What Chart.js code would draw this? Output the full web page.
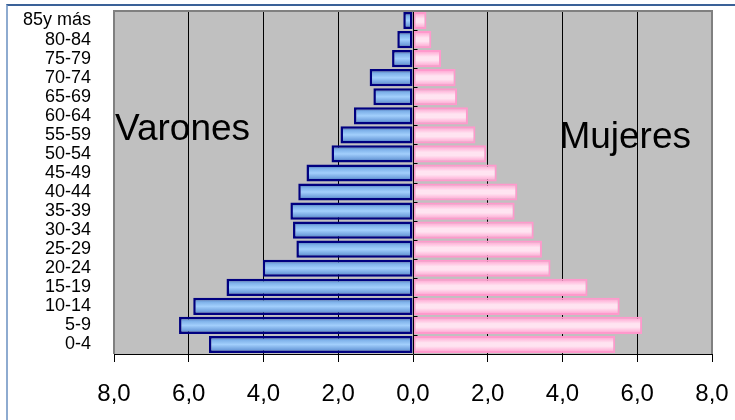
<!DOCTYPE html>
<html>
<head>
<meta charset="utf-8">
<script src="https://cdn.jsdelivr.net/npm/chart.js@4/dist/chart.umd.min.js"></script>
<style>
  body { margin: 0; background: #fff; }
  #wrap { position: relative; width: 735px; height: 420px; overflow: hidden; }
  #frame { position: absolute; left: 6px; top: 4px; width: 800px; height: 500px;
           border-top: 2px solid #3a6198; border-left: 2px solid #8eabd0; }
  canvas { position: absolute; left: 0; top: 0; }
</style>
</head>
<body>
<div id="wrap">
  <div id="frame"></div>
  <canvas id="piramide" width="735" height="420"></canvas>
</div>
<script>
// grupos de edad, de abajo hacia arriba
const grupos = ['0-4', '5-9', '10-14', '15-19', '20-24', '25-29', '30-34', '35-39', '40-44',
  '45-49', '50-54', '55-59', '60-64', '65-69', '70-74', '75-79', '80-84', '85y más'];
// porcentaje de población por sexo
const varones = [5.46, 6.26, 5.88, 4.99, 4.02, 3.12, 3.21, 3.28, 3.07,
  2.85, 2.18, 1.94, 1.58, 1.06, 1.16, 0.56, 0.42, 0.26];
const mujeres = [5.41, 6.13, 5.53, 4.67, 3.68, 3.45, 3.23, 2.72, 2.79,
  2.24, 1.96, 1.67, 1.47, 1.18, 1.14, 0.75, 0.49, 0.36];
const rotulos = ['Varones', 'Mujeres'];

const FUENTE = "'Liberation Sans', Arial, sans-serif";
const BAR_PCT = 0.9;

// degradado vertical dentro de cada barra
function degradado(stops, fallback) {
  return function (ctx) {
    const chart = ctx.chart;
    const yS = chart.scales.y;
    if (!chart.chartArea || !yS || ctx.type !== 'data') return fallback;
    const cy = yS.getPixelForValue(ctx.dataIndex);
    const h = yS.height / grupos.length * BAR_PCT;
    const g = chart.ctx.createLinearGradient(0, cy - h / 2, 0, cy + h / 2);
    stops.forEach(s => g.addColorStop(s[0], s[1]));
    return g;
  };
}

const fondoPlugin = {
  id: 'fondo',
  beforeDraw(chart) {
    const { ctx, chartArea: a } = chart;
    ctx.save();
    ctx.fillStyle = '#c0c0c0';
    ctx.fillRect(a.left, a.top, a.right - a.left, a.bottom - a.top);
    ctx.restore();
  },
  afterDatasetsDraw(chart) {
    const { ctx, chartArea: a, scales } = chart;
    ctx.save();
    // eje vertical en el cero con sus marcas
    const x0 = Math.round(scales.x.getPixelForValue(0)) + 0.5;
    ctx.strokeStyle = '#000';
    ctx.lineWidth = 1;
    ctx.beginPath();
    ctx.moveTo(x0, a.top);
    ctx.lineTo(x0, a.bottom);
    const paso = (a.bottom - a.top) / grupos.length;
    for (let i = 1; i < grupos.length; i++) {
      const yy = Math.round(a.top + paso * i) + 0.5;
      ctx.moveTo(x0, yy);
      ctx.lineTo(x0 + 4, yy);
    }
    ctx.stroke();
    // borde gris del área de trazado
    ctx.strokeStyle = '#808080';
    ctx.lineWidth = 2;
    ctx.beginPath();
    ctx.moveTo(a.left, a.bottom);
    ctx.lineTo(a.left, a.top);
    ctx.lineTo(a.right, a.top);
    ctx.lineTo(a.right, a.bottom);
    ctx.stroke();
    // rótulos
    ctx.fillStyle = '#000';
    ctx.font = '37px ' + FUENTE;
    ctx.textBaseline = 'alphabetic';
    ctx.textAlign = 'left';
    ctx.fillText(rotulos[0], a.left + 1, a.top + 129);
    ctx.textAlign = 'right';
    ctx.fillText(rotulos[1], a.right - 21, a.top + 137);
    ctx.restore();
  }
};

new Chart(document.getElementById('piramide'), {
  type: 'bar',
  data: {
    labels: grupos,
    datasets: [{
      label: rotulos[0],
      data: varones.map(v => -v),
      backgroundColor: degradado([[0, '#3f5f9f'], [0.25, '#7fb2ea'], [0.5, '#a2cffc'], [0.8, '#6f9fdc'], [1, '#2f4f8f']], '#99ccff'),
      borderColor: '#000080',
      borderWidth: 2.5,
      borderSkipped: false,
      categoryPercentage: 1,
      barPercentage: BAR_PCT,
    }, {
      label: rotulos[1],
      data: mujeres,
      backgroundColor: degradado([[0, '#ff99cc'], [0.4, '#ffe4f1'], [0.6, '#ffe4f1'], [1, '#ff99cc']], '#ffccee'),
      borderColor: '#ff99cc',
      borderWidth: 2,
      borderSkipped: false,
      categoryPercentage: 1,
      barPercentage: BAR_PCT,
    }]
  },
  options: {
    indexAxis: 'y',
    responsive: false,
    animation: false,
    devicePixelRatio: 1,
    layout: { padding: { left: 0, right: 23, top: 11, bottom: 0 } },
    plugins: {
      legend: { display: false },
      tooltip: { enabled: false }
    },
    scales: {
      x: {
        stacked: true,
        min: -8,
        max: 8,
        afterFit(scale) {
          scale.height = 66;
          scale.paddingLeft = 0;
          scale.paddingRight = 0;
        },
        ticks: {
          stepSize: 2,
          color: '#000',
          padding: 18,
          font: { family: FUENTE, size: 24 },
          callback: v => Math.abs(v).toFixed(1).replace('.', ',')
        },
        grid: {
          color: '#000',
          lineWidth: 1,
          drawTicks: true,
          tickLength: 8
        },
        border: { display: true, color: '#000', width: 1 }
      },
      y: {
        stacked: true,
        reverse: true,
        afterFit(scale) {
          scale.width = 114;
          scale.paddingTop = 0;
          scale.paddingBottom = 0;
        },
        ticks: {
          color: '#000',
          padding: 23,
          autoSkip: false,
          font: { family: FUENTE, size: 18 }
        },
        grid: { display: false, drawTicks: false },
        border: { display: false }
      }
    }
  },
  plugins: [fondoPlugin]
});
</script>
</body>
</html>
